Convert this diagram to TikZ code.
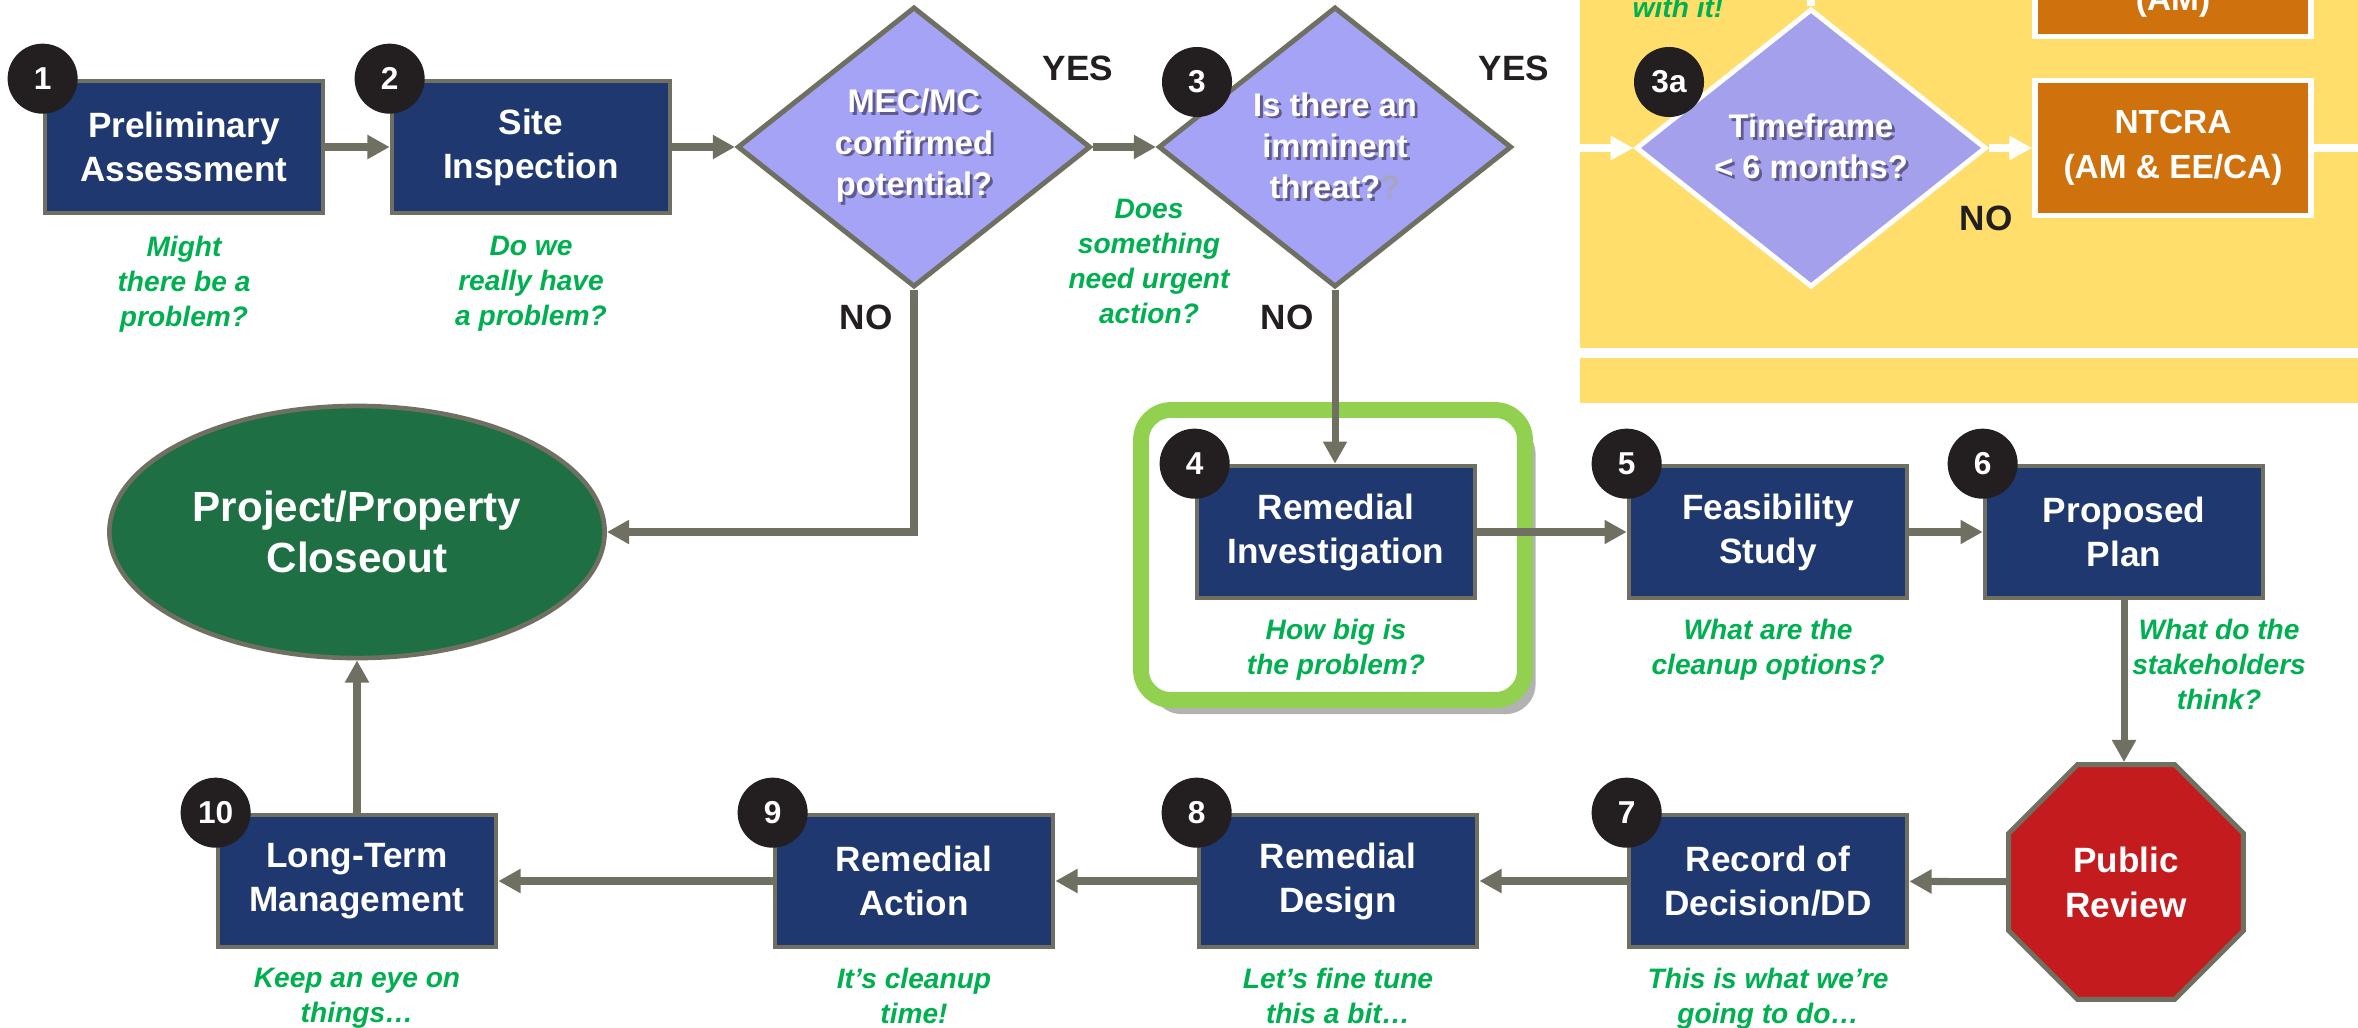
\documentclass[tikz,border=0pt]{standalone}
\usepackage{fontspec}
\setmainfont{Liberation Sans}
\usetikzlibrary{arrows.meta,positioning,shapes.geometric,shadows}

\definecolor{boxblue}{RGB}{31,56,112}
\definecolor{edgegray}{RGB}{112,112,98}
\definecolor{lavender}{RGB}{165,163,245}
\definecolor{lavenderb}{RGB}{164,160,235}
\definecolor{notegreen}{RGB}{0,176,80}
\definecolor{closegreen}{RGB}{30,112,68}
\definecolor{stopred}{RGB}{196,28,30}
\definecolor{ntorange}{RGB}{207,113,13}
\definecolor{markgreen}{RGB}{146,208,80}
\definecolor{badgeblack}{RGB}{35,31,32}
\definecolor{padyellow}{RGB}{255,222,107}
\definecolor{shadowc}{RGB}{96,90,140}
\definecolor{inkblack}{RGB}{35,31,32}

% white text with a small dark shadow
\newcommand{\shd}[1]{\rlap{\kern0.8pt\raisebox{-0.8pt}{\textcolor{shadowc}{#1}}}#1}

\tikzset{
  stepbox/.style={draw=edgegray, line width=1.3pt, fill=boxblue, text=white,
    font=\bfseries\fontsize{10}{12.5}\selectfont, align=center,
    minimum width=2.78cm, minimum height=1.32cm, inner sep=0pt},
  decision/.style={diamond, draw=edgegray, line width=1.4pt, fill=lavender, text=white,
    font=\bfseries\fontsize{9.3}{11.7}\selectfont, align=center,
    minimum width=3.53cm, minimum height=2.8cm, inner sep=0pt},
  decisionw/.style={decision, draw=white, fill=lavenderb, minimum width=3.5cm, minimum height=2.78cm},
  actbox/.style={draw=white, line width=1.5pt, fill=ntorange, text=white,
    font=\bfseries\fontsize{9.5}{12.8}\selectfont, align=center,
    minimum width=2.76cm, minimum height=1.35cm, inner sep=0pt},
  badge/.style={circle, fill=badgeblack, text=white, font=\bfseries\fontsize{9}{10}\selectfont,
    minimum size=0.7cm, inner sep=0pt},
  note/.style={text=notegreen, font=\bfseries\itshape\fontsize{8}{10}\selectfont,
    align=center, inner sep=0pt},
  answer/.style={text=inkblack, font=\bfseries\fontsize{10}{12}\selectfont, inner sep=0pt},
  flow/.style={draw=edgegray, line width=2pt, -{Triangle[length=6.3pt,width=6.5pt]}},
  whiteflow/.style={draw=white, line width=2.3pt, -{Triangle[length=6.5pt,width=6.5pt]}},
  whiteline/.style={draw=white, line width=2.3pt},
  markframe/.style={draw=markgreen, line width=4.5pt, fill=white, rounded corners=0.3cm,
    drop shadow={shadow xshift=3pt, shadow yshift=-4pt, opacity=0.3, fill=black}}
}

\begin{document}
\begin{tikzpicture}[x=0.01cm, y=-0.01cm]
  \useasboundingbox (0,0) rectangle (2358,1027);
  \clip (0,0) rectangle (2358,1027);

  % time-critical panel
  \fill[padyellow] (1580,0) rectangle (2358,348);
  \fill[padyellow] (1580,358) rectangle (2358,403);
  \node[note, anchor=base] (nw) at (1678,18) {with it!};
  \node[actbox] (am) at (2173,-31) {};
  \node[text=white, font=\bfseries\fontsize{9.5}{12.8}\selectfont, anchor=base] (amtxt) at (2173,10) {(AM)};
  \node[decisionw] (d3a) at (1811,148) {\shd{Timeframe}\\\shd{< 6 months?}};
  \node[badge] (b3a) at (1669,82) {3a};
  \node[actbox] (nt) at (2173,148) {NTCRA\\(AM \& EE/CA)};
  \node[answer] (no3) at (1986,218) {NO};
  \coordinate (yin) at (1580,148);
  \coordinate (yout) at (2358,148);
  \coordinate (ytop) at (1811,0);
  \draw[whiteflow] (yin) -- (d3a);
  \draw[whiteflow] (d3a) -- (nt);
  \draw[whiteline] (nt) -- (yout);
  \draw[whiteline] (d3a) -- (ytop);

  % highlight round step 4
  \draw[markframe] (1141,410) rectangle (1525,700);

  % top row
  \node[stepbox] (p1) at (184,147) {Preliminary\\Assessment};
  \node[stepbox] (p2) at (531,147) {Site\\Inspection};
  \node[decision] (d1) at (914,147) {\shd{MEC/MC}\\\shd{confirmed}\\\shd{potential?}};
  \node[decision] (d2) at (1335,147) {\shd{Is there an}\\\shd{imminent}\\\shd{threat?}\textcolor{shadowc!55}{?}};
  \node[badge] (b1) at (p1.north west) {1};
  \node[badge] (b2) at (p2.north west) {2};
  \node[badge] (b3) at (1197,82) {3};
  \node[note, below=0.2cm of p1] (n1) {Might\\there be a\\problem?};
  \node[note, below=0.2cm of p2] (n2) {Do we\\really have\\a problem?};
  \node[note, anchor=north] (nq) at (1149,198) {Does\\something\\need urgent\\action?};
  \node[answer] (y1) at (1078,68) {YES};
  \node[answer] (y2) at (1514,68) {YES};
  \node[answer] (no1) at (866,317) {NO};
  \node[answer] (no2) at (1287,317) {NO};

  % closeout
  \node[ellipse, draw=edgegray, line width=1.3pt, fill=closegreen, text=white,
    font=\bfseries\fontsize{12}{14.5}\selectfont, align=center,
    minimum width=4.95cm, minimum height=2.52cm, inner sep=0pt] (close) at (357,532)
    {Project/Property\\Closeout};

  % middle row
  \node[stepbox] (p4) at (1336,532) {Remedial\\Investigation};
  \node[stepbox] (p5) at (1768,532) {Feasibility\\Study};
  \node[stepbox] (p6) at (2124,532) {Proposed\\Plan};
  \node[badge] (b4) at (p4.north west) {4};
  \node[badge] (b5) at (p5.north west) {5};
  \node[badge] (b6) at (p6.north west) {6};
  \node[note, below=0.18cm of p4] (n4) {How big is\\the problem?};
  \node[note, below=0.18cm of p5] (n5) {What are the\\cleanup options?};
  \node[note, below=0.18cm of p6.south, xshift=0.95cm] (n6) {What do the\\stakeholders\\think?};

  % public review
  \node[regular polygon, regular polygon sides=8, draw=edgegray, line width=1.4pt,
    fill=stopred, text=white, font=\bfseries\fontsize{10}{12.8}\selectfont, align=center,
    minimum size=2.54cm, inner sep=0pt] (pub) at (2126,882) {Public\\Review};

  % bottom row
  \node[stepbox] (p7) at (1768,881) {Record of\\Decision/DD};
  \node[stepbox] (p8) at (1338,881) {Remedial\\Design};
  \node[stepbox] (p9) at (914,881) {Remedial\\Action};
  \node[stepbox] (p10) at (357,881) {Long-Term\\Management};
  \node[badge] (b7) at (p7.north west) {7};
  \node[badge] (b8) at (p8.north west) {8};
  \node[badge] (b9) at (p9.north west) {9};
  \node[badge] (b10) at (p10.north west) {10};
  \node[note, below=0.18cm of p7] (n7) {This is what we’re\\going to do…};
  \node[note, below=0.18cm of p8] (n8) {Let’s fine tune\\this a bit…};
  \node[note, below=0.18cm of p9] (n9) {It’s cleanup\\time!};
  \node[note, below=0.18cm of p10] (n10) {Keep an eye on\\things…};

  % connectors
  \draw[flow] (p1) -- (p2);
  \draw[flow] (p2) -- (d1);
  \draw[flow] (d1) -- (d2);
  \draw[flow] (d1.south) |- (close.east);
  \draw[flow] (d2.south) -- (d2.south |- p4.north);
  \draw[flow] (p4) -- (p5);
  \draw[flow] (p5) -- (p6);
  \draw[flow] (p6.south) -- (p6.south |- pub.north);
  \draw[flow] (pub) -- (p7);
  \draw[flow] (p7) -- (p8);
  \draw[flow] (p8) -- (p9);
  \draw[flow] (p9) -- (p10);
  \draw[flow] (p10) -- (close);
\end{tikzpicture}
\end{document}
